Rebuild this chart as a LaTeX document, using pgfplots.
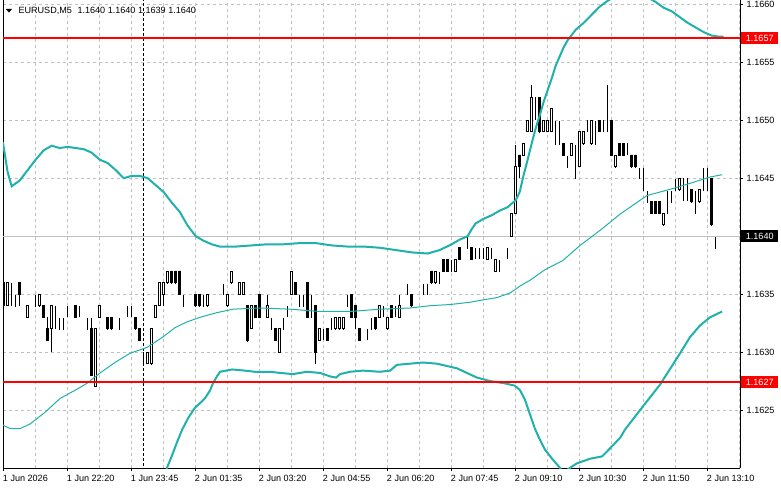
\documentclass[border=0pt]{standalone}
\usepackage{fontspec}
\setmainfont{Liberation Sans}
\usepackage{pgfplots}
\pgfplotsset{compat=1.18}
\usepackage{pgfplotstable}
\definecolor{band}{HTML}{20B2AA}
\definecolor{gridc}{HTML}{C0C0C0}
\newcommand\lf{\fontsize{6.8}{8}\selectfont}

\pgfplotstableread{
i o h l c
0 1.1636 1.1636 1.1634 1.1634
1 1.1634 1.1636 1.1634 1.1636
2 1.1635 1.1636 1.1634 1.1635
3 1.1635 1.1635 1.1634 1.1635
4 1.1636 1.1636 1.1634 1.1635
5 1.1634 1.1634 1.1634 1.1634
6 1.1633 1.1634 1.1633 1.1634
7 1.1635 1.1635 1.1635 1.1635
8 1.1635 1.1635 1.1634 1.1635
9 1.1634 1.1635 1.1634 1.1635
10 1.1634 1.1634 1.1633 1.1633
11 1.1632 1.1633 1.1631 1.1631
12 1.1632 1.1634 1.1630 1.1634
13 1.1634 1.1634 1.1632 1.1634
14 1.1633 1.1633 1.1632 1.1633
15 1.1633 1.1633 1.1632 1.1633
16 1.1634 1.1634 1.1633 1.1634
17 1.1633 1.1633 1.1633 1.1633
18 1.1634 1.1634 1.1633 1.1633
19 1.1634 1.1634 1.1633 1.1634
20 1.1632 1.1632 1.1632 1.1632
21 1.1633 1.1633 1.1632 1.1633
22 1.1632 1.1633 1.1628 1.1628
23 1.1627 1.1632 1.1627 1.1632
24 1.1633 1.1634 1.1633 1.1634
25 1.1633 1.1633 1.1633 1.1633
26 1.1633 1.1633 1.1632 1.1632
27 1.1633 1.1633 1.1632 1.1632
28 1.1631 1.1631 1.1631 1.1631
29 1.1633 1.1633 1.1632 1.1633
30 1.1633 1.1633 1.1633 1.1633
31 1.1634 1.1634 1.1633 1.1634
32 1.1634 1.1634 1.1633 1.1634
33 1.1633 1.1633 1.1632 1.1632
34 1.1632 1.1632 1.1631 1.1631
35 1.1630 1.1630 1.1629 1.1630
36 1.1629 1.1630 1.1629 1.1630
37 1.1629 1.1632 1.1629 1.1632
38 1.1633 1.1634 1.1633 1.1634
39 1.1634 1.1636 1.1634 1.1636
40 1.1635 1.1636 1.1634 1.1636
41 1.1636 1.1637 1.1636 1.1637
42 1.1637 1.1637 1.1636 1.1636
43 1.1637 1.1637 1.1636 1.1636
44 1.1637 1.1637 1.1635 1.1635
45 1.1635 1.1635 1.1634 1.1635
46 1.1633 1.1633 1.1633 1.1633
47 1.1634 1.1634 1.1634 1.1634
48 1.1635 1.1635 1.1634 1.1634
49 1.1635 1.1635 1.1634 1.1634
50 1.1635 1.1635 1.1634 1.1635
51 1.1634 1.1635 1.1634 1.1635
52 1.1636 1.1636 1.1636 1.1636
53 1.1635 1.1635 1.1635 1.1635
54 1.1636 1.1636 1.1636 1.1636
55 1.1636 1.1636 1.1635 1.1636
56 1.1634 1.1635 1.1634 1.1635
57 1.1636 1.1637 1.1636 1.1637
58 1.1636 1.1636 1.1636 1.1636
59 1.1635 1.1636 1.1635 1.1636
60 1.1635 1.1636 1.1635 1.1636
61 1.1634 1.1634 1.1631 1.1631
62 1.1632 1.1634 1.1632 1.1634
63 1.1634 1.1634 1.1633 1.1633
64 1.1635 1.1635 1.1633 1.1633
65 1.1634 1.1634 1.1634 1.1634
66 1.1633 1.1635 1.1633 1.1634
67 1.1633 1.1633 1.1632 1.1633
68 1.1632 1.1632 1.1631 1.1631
69 1.1630 1.1632 1.1630 1.1632
70 1.1633 1.1633 1.1632 1.1633
71 1.1634 1.1634 1.1633 1.1634
72 1.1635 1.1637 1.1635 1.1637
73 1.1636 1.1636 1.1635 1.1635
74 1.1635 1.1635 1.1634 1.1635
75 1.1635 1.1635 1.1634 1.1635
76 1.1636 1.1636 1.1633 1.1633
77 1.1634 1.1635 1.1633 1.1634
78 1.1634 1.1634 1.1629 1.1630
79 1.1631 1.1632 1.1631 1.1632
80 1.1632 1.1632 1.1631 1.1632
81 1.1632 1.1632 1.1631 1.1631
82 1.1633 1.1633 1.1632 1.1633
83 1.1632 1.1633 1.1632 1.1633
84 1.1632 1.1633 1.1632 1.1633
85 1.1632 1.1633 1.1632 1.1633
86 1.1635 1.1635 1.1634 1.1635
87 1.1635 1.1635 1.1633 1.1633
88 1.1634 1.1634 1.1632 1.1633
89 1.1632 1.1632 1.1631 1.1631
90 1.1632 1.1632 1.1632 1.1632
91 1.1632 1.1632 1.1631 1.1632
92 1.1633 1.1633 1.1632 1.1633
93 1.1633 1.1633 1.1632 1.1632
94 1.1633 1.1634 1.1633 1.1634
95 1.1634 1.1634 1.1633 1.1634
96 1.1632 1.1633 1.1632 1.1633
97 1.1634 1.1634 1.1633 1.1633
98 1.1634 1.1634 1.1633 1.1634
99 1.1633 1.1635 1.1633 1.1634
100 1.1635 1.1635 1.1635 1.1635
101 1.1636 1.1636 1.1635 1.1636
102 1.1635 1.1635 1.1634 1.1634
103 1.1635 1.1635 1.1635 1.1635
104 1.1636 1.1636 1.1636 1.1636
105 1.1636 1.1636 1.1635 1.1636
106 1.1636 1.1636 1.1635 1.1636
107 1.1637 1.1637 1.1636 1.1636
108 1.1636 1.1637 1.1636 1.1637
109 1.1637 1.1637 1.1636 1.1637
110 1.1638 1.1638 1.1637 1.1637
111 1.1638 1.1638 1.1637 1.1637
112 1.1638 1.1638 1.1637 1.1638
113 1.1637 1.1638 1.1637 1.1638
114 1.1639 1.1639 1.1638 1.1638
115 1.1639 1.1639 1.1639 1.1639
116 1.1640 1.1640 1.1639 1.1640
117 1.1639 1.1639 1.1638 1.1638
118 1.1639 1.1639 1.1638 1.1639
119 1.1639 1.1639 1.1638 1.1639
120 1.1639 1.1639 1.1638 1.1639
121 1.1638 1.1639 1.1638 1.1639
122 1.1639 1.1639 1.1638 1.1639
123 1.1637 1.1638 1.1637 1.1638
124 1.1638 1.1638 1.1637 1.1638
125 1.1638 1.1638 1.1638 1.1638
126 1.1639 1.1639 1.1638 1.1639
127 1.1640 1.1642 1.1640 1.1642
128 1.1642 1.1648 1.1642 1.1646
129 1.1647 1.1647 1.1645 1.1646
130 1.1647 1.1648 1.1647 1.1648
131 1.1649 1.1650 1.1649 1.1650
132 1.1649 1.1653 1.1649 1.1652
133 1.1651 1.1652 1.1650 1.1651
134 1.1652 1.1652 1.1649 1.1649
135 1.1649 1.1650 1.1649 1.1650
136 1.1649 1.1650 1.1649 1.1650
137 1.1649 1.1651 1.1649 1.1651
138 1.1650 1.1650 1.1648 1.1650
139 1.1650 1.1650 1.1648 1.1650
140 1.1648 1.1648 1.1647 1.1647
141 1.1647 1.1647 1.1646 1.1647
142 1.1647 1.1648 1.1647 1.1648
143 1.1648 1.1648 1.1645 1.1648
144 1.1646 1.1649 1.1646 1.1649
145 1.1648 1.1649 1.1648 1.1649
146 1.1650 1.1650 1.1649 1.1650
147 1.1648 1.1650 1.1648 1.1650
148 1.1650 1.1650 1.1648 1.1650
149 1.1650 1.1650 1.1649 1.1649
150 1.1650 1.1650 1.1649 1.1650
151 1.1650 1.1653 1.1649 1.1650
152 1.1650 1.1650 1.1647 1.1647
153 1.1646 1.1647 1.1646 1.1647
154 1.1648 1.1648 1.1647 1.1647
155 1.1648 1.1648 1.1647 1.1647
156 1.1648 1.1648 1.1647 1.1648
157 1.1647 1.1647 1.1646 1.1646
158 1.1647 1.1647 1.1646 1.1646
159 1.1646 1.1646 1.1645 1.1646
160 1.1646 1.1646 1.1644 1.1646
161 1.1644 1.1644 1.1643 1.1644
162 1.1643 1.1643 1.1642 1.1642
163 1.1643 1.1643 1.1642 1.1642
164 1.1643 1.1643 1.1642 1.1642
165 1.1641 1.1642 1.1641 1.1642
166 1.1644 1.1644 1.1642 1.1644
167 1.1644 1.1644 1.1643 1.1644
168 1.1645 1.1645 1.1644 1.1645
169 1.1644 1.1645 1.1644 1.1645
170 1.1645 1.1645 1.1643 1.1645
171 1.1645 1.1645 1.1643 1.1645
172 1.1644 1.1644 1.1643 1.1643
173 1.1644 1.1644 1.1642 1.1644
174 1.1643 1.1644 1.1643 1.1644
175 1.1646 1.1646 1.1644 1.1646
176 1.1646 1.1646 1.1644 1.1646
177 1.1645 1.1645 1.1641 1.1641
178 1.1640 1.1640 1.1639 1.1640
}\candles

\pgfplotstableread{
i p
-0.2 1.16481
1 1.16455
2 1.16443
4 1.16448
6 1.16457
8 1.16466
10 1.16474
12 1.16478
14 1.16476
16 1.16477
18 1.16476
20 1.16475
22 1.16472
24 1.16466
26 1.16463
28 1.16457
30 1.16450
32 1.16452
34 1.16452
36 1.16450
38 1.16444
40 1.16438
42 1.16429
44 1.16421
46 1.16409
48 1.16400
50 1.16396
52 1.16393
54 1.16391
58 1.16391
62 1.16392
66 1.16393
70 1.16393
74 1.16394
78 1.16394
82 1.16392
86 1.16391
90 1.16391
94 1.16390
98 1.16388
102 1.16386
106 1.16385
109 1.16388
112 1.16393
114 1.16397
116 1.16400
117 1.16406
118 1.16411
120 1.16415
122 1.16418
124 1.16422
126 1.16425
128 1.16431
129 1.16438
130 1.16453
131 1.16466
132 1.16480
133 1.16493
134 1.16504
135 1.16516
136 1.16526
137 1.16536
138 1.16547
139 1.16555
140 1.16563
141 1.16569
143 1.16578
145 1.16584
147 1.16591
149 1.16598
151 1.16603
153 1.16607
157 1.16609
161 1.16606
163 1.16602
165 1.16597
167 1.16594
169 1.16589
171 1.16584
173 1.16580
175 1.16576
177 1.16573
179 1.16572
180 1.16572
}\bbup

\pgfplotstableread{
i p
-0.2 1.16237
1.6 1.16234
4.1 1.16234
6.6 1.16238
10.3 1.16248
14.1 1.16260
17.8 1.16267
20.8 1.16273
24.1 1.16282
27.8 1.16291
31.6 1.16299
35.8 1.16304
39.8 1.16313
42.8 1.16321
45.8 1.16326
49.1 1.16330
53.3 1.16334
57.3 1.16337
64.1 1.16338
71.6 1.16337
79.1 1.16335
86.6 1.16335
94.1 1.16337
101.6 1.16338
106.6 1.16340
111.6 1.16341
116.6 1.16343
119.8 1.16345
123.3 1.16347
126.6 1.16351
129.1 1.16357
131.6 1.16362
135.3 1.16371
139.8 1.16379
144.1 1.16392
149.1 1.16405
154.1 1.16419
160.8 1.16435
168.3 1.16442
176.6 1.16451
179.6 1.16453
}\bbmid

\pgfplotstableread{
i p
39.8 1.16190
40.8 1.16200
42.1 1.16211
43.3 1.16222
44.6 1.16233
46.1 1.16243
47.8 1.16252
49.1 1.16256
50.3 1.16260
51.6 1.16267
52.3 1.16273
53.3 1.16279
54.1 1.16283
57.1 1.16285
60.3 1.16284
62.8 1.16283
66.6 1.16283
69.1 1.16282
72.3 1.16281
75.8 1.16283
79.1 1.16282
81.6 1.16279
83.1 1.16278
84.1 1.16281
86.6 1.16283
89.8 1.16284
94.1 1.16283
96.6 1.16284
98.3 1.16289
101.6 1.16290
104.8 1.16291
108.3 1.16290
110.8 1.16288
113.3 1.16286
115.8 1.16282
118.3 1.16278
121.6 1.16275
125.3 1.16273
127.8 1.16271
129.1 1.16267
130.3 1.16259
131.6 1.16246
132.8 1.16234
134.1 1.16224
135.3 1.16216
137.1 1.16208
139.1 1.16200
140.1 1.16193
141.1 1.16199
143.3 1.16204
146.6 1.16208
149.6 1.16210
151.6 1.16217
154.1 1.16226
155.3 1.16233
159.1 1.16250
164.1 1.16272
169.1 1.16299
171.6 1.16313
174.1 1.16323
176.6 1.16330
179.6 1.16335
}\bblow

\pgfplotsset{
  common/.style={
    at={(2.25pt,15.75pt)}, anchor=south west,
    width=552.75pt, height=351pt, scale only axis,
    xmin=-0.175, xmax=184.08, ymin=1.16200, ymax=1.166037,
    enlargelimits=false,
  },
}
\tikzset{
  lbox/.style={anchor=west, inner xsep=3.6pt, inner ysep=0pt,
    minimum height=8.6pt, font=\lf, text=white, xshift=0.6pt},
}

\begin{document}
\begin{tikzpicture}
\path[use as bounding box] (0,0) rectangle (585.75pt,366.75pt);
\fill[white] (0,0) rectangle (585.75pt,366.75pt);

% main axis: grid, ticks, labels, wicks
\begin{axis}[common,
  axis x line*=bottom, axis y line*=box,
  axis line style={black, line width=0.75pt},
  xtick={0,16,32,48,64,80,96,112,128,144,160,176},
  xticklabels={1 Jun 2026, 1 Jun 22:20, 1 Jun 23:45, 2 Jun 01:35, 2 Jun 03:20, 2 Jun 04:55, 2 Jun 06:20, 2 Jun 07:45, 2 Jun 09:10, 2 Jun 10:30, 2 Jun 11:50, 2 Jun 13:10},
  minor xtick={8,24,40,56,72,88,104,120,136,152,168,184},
  ytick={1.1625,1.1630,1.1635,1.1640,1.1645,1.1650,1.1655,1.1660},
  yticklabels={1.1625,1.1630,1.1635,1.1640,1.1645,1.1650,1.1655,1.1660},
  xtick pos=bottom, ytick pos=right, yticklabel pos=right,
  tick align=outside, major tick length=2.25pt, minor tick length=0pt,
  tick style={black, line width=0.75pt},
  grid=both,
  major grid style={gridc, dash pattern=on 2.25pt off 2.25pt, line width=0.75pt},
  minor grid style={gridc, dash pattern=on 2.25pt off 2.25pt, line width=0.75pt},
  every tick label/.append style={font=\lf, text=black},
  xticklabel style={anchor=north west, inner sep=0pt, xshift=-0.75pt, yshift=-3pt},
  yticklabel style={anchor=west, inner sep=0pt, xshift=2.6pt},
  /pgf/number format/assume math mode=true,
]
\addplot[gridc, line width=0.75pt] coordinates {(-1,1.1640) (186,1.1640)};
\addplot[black, line width=0.75pt, dash pattern=on 2.25pt off 1.5pt] coordinates {(35,1.1615) (35,1.1665)};
\addplot[draw=none, mark=none,
  error bars/.cd, y dir=both, y explicit, error mark=none,
  error bar style={draw=black, solid, line width=0.75pt}]
  table[x=i, y expr={(\thisrow{h}+\thisrow{l})/2}, y error expr={(\thisrow{h}-\thisrow{l})/2}] {\candles};
\end{axis}

% candle bodies (prices measured from 1.1620)
\begin{axis}[common, ymin=0, ymax=0.004037, hide axis,
  ybar stacked, bar width=1.6pt]
\addplot[draw=none, fill=none] table[x=i, y expr={min(\thisrow{o},\thisrow{c})-1.162}] {\candles};
\addplot[draw=black, fill=white, line width=0.6pt] table[x=i, y expr={max(\thisrow{c}-\thisrow{o},0)}] {\candles};
\addplot[draw=black, fill=black, line width=0.6pt] table[x=i, y expr={max(\thisrow{o}-\thisrow{c},0)}] {\candles};
\end{axis}

% Bollinger bands, levels, price boxes
\begin{axis}[common, hide axis, clip mode=individual]
\addplot[band, line width=1.5pt] table[x=i, y=p] {\bbup};
\addplot[band, line width=0.75pt] table[x=i, y=p] {\bbmid};
\addplot[band, line width=1.5pt] table[x=i, y=p] {\bblow};
\addplot[red, line width=1.5pt] coordinates {(-1,1.16571) (186,1.16571)};
\addplot[red, line width=1.5pt] coordinates {(-1,1.16274) (186,1.16274)};
\node[lbox, fill=red] at (axis cs:184.08,1.16571) {1.1657};
\node[lbox, fill=red] at (axis cs:184.08,1.16274) {1.1627};
\node[lbox, fill=black] at (axis cs:184.08,1.1640) {1.1640};
\end{axis}

% header
\fill[black] (4.5pt,360pt) -- (9pt,360pt) -- (6.75pt,357.3pt) -- cycle;
\node[anchor=base west, inner sep=0pt, font=\lf] at (13.7pt,356.3pt) {EURUSD,M5\hspace{4.2pt}1.1640 1.1640 1.1639 1.1640};
\end{tikzpicture}
\end{document}
